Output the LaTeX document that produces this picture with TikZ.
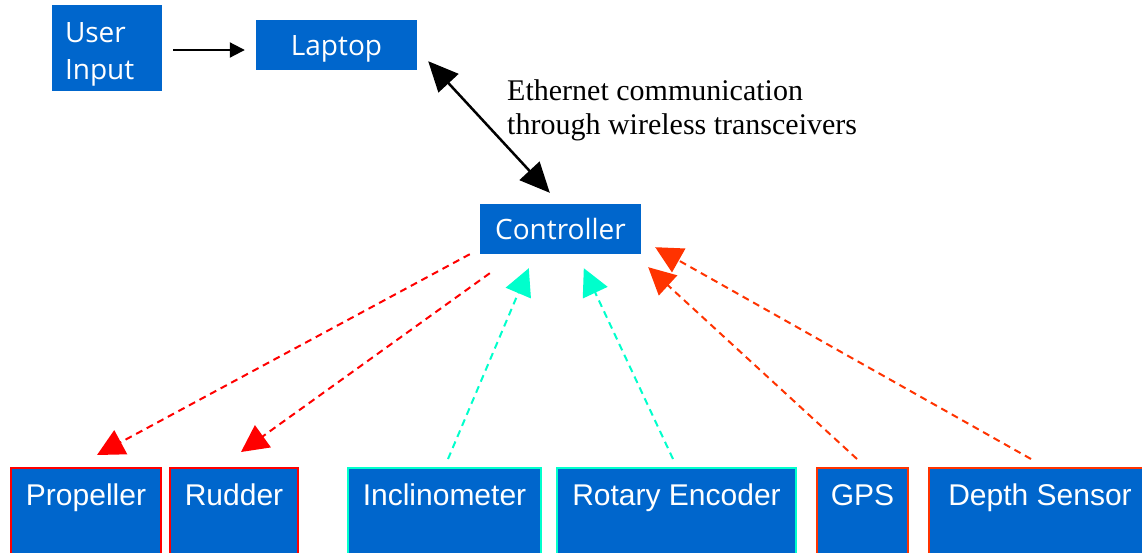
\documentclass[tikz,border=0pt]{standalone}
\usepackage{fontspec}
\setmainfont{Liberation Serif}
\newfontfamily\boxfont{Open Sans}
\newfontfamily\armfont{Liberation Sans}
\usetikzlibrary{arrows.meta}
\definecolor{boxblue}{RGB}{0,102,204}
\definecolor{actred}{RGB}{255,0,0}
\definecolor{senscyan}{RGB}{0,255,204}
\definecolor{sensorange}{RGB}{255,51,0}
\begin{document}
\begin{tikzpicture}[x=1pt,y=-1pt,
  topbox/.style={fill=boxblue, text=white, font=\boxfont\fontsize{28}{36.5}\selectfont, inner sep=0pt},
  onebox/.style={topbox, text height=20pt, text depth=0pt},
  botbox/.style={fill=boxblue, draw=#1, line width=2pt, text=white,
    font=\armfont\fontsize{30}{36}\selectfont, inner xsep=0pt, inner ysep=7pt,
    text height=30pt, text depth=90pt, anchor=north west},
  blackarrow/.style={draw=black, line width=2pt, -{Triangle[length=15pt,width=15pt]}},
  linkarrow/.style={draw=black, line width=2.5pt, {Triangle[length=30pt,width=27pt]}-{Triangle[length=30pt,width=27pt]}},
  sigarrow/.style={draw=#1, line width=2pt, dash pattern=on 7pt off 5pt, -{Triangle[length=27pt,width=27pt]}}
]
\useasboundingbox (0,0) rectangle (1142,552);
\clip (0,0) rectangle (1142,552);
\fill[white] (0,0) rectangle (1142,552);

% top boxes
\node[topbox, minimum width=110pt, minimum height=86pt] (ui) at (107,48) {\parbox[c][50pt][t]{84pt}{User\\Input}};
\node[onebox, minimum width=161pt, minimum height=50pt] (lap) at (336.5,45) {Laptop};
\node[onebox, minimum width=161pt, minimum height=50pt] (ctrl) at (560.5,229) {Controller};

% label
\node[anchor=north west, inner sep=0pt, align=left, font=\fontsize{30}{34}\selectfont] (eth) at (507,79.5) {Ethernet communication\\through wireless transceivers};

% bottom boxes
\node[botbox=actred, minimum width=150pt] (prop) at (10,467) {Propeller};
\node[botbox=actred, minimum width=128pt] (rud) at (169,467) {Rudder};
\node[botbox=senscyan, minimum width=193pt] (incl) at (347,467) {Inclinometer};
\node[botbox=senscyan, minimum width=239pt] (rot) at (556,467) {Rotary Encoder};
\node[botbox=sensorange, minimum width=91pt] (gps) at (816,467) {GPS};
\node[botbox=sensorange, minimum width=222pt] (dep) at (928,467) {Depth Sensor};

% connectors
\draw[blackarrow] ([shift={(11,2)}]ui.east) -- ([shift={(-11,5)}]lap.west);
\draw[linkarrow] ([shift={(11,-9)}]lap.south east) -- ([shift={(70,-11)}]ctrl.north west);

\draw[sigarrow=actred] ([shift={(-10,0)}]ctrl.south west) -- ([shift={(87,-12)}]prop.north west);
\draw[sigarrow=actred] ([shift={(10,19)}]ctrl.south west) -- ([shift={(72,-15)}]rud.north west);
\draw[sigarrow=senscyan] ([shift={(101,-8)}]incl.north west) -- ([shift={(49,14)}]ctrl.south west);
\draw[sigarrow=senscyan] ([shift={(117,-8)}]rot.north west) -- ([shift={(104,14)}]ctrl.south west);
\draw[sigarrow=sensorange] ([shift={(41,-8)}]gps.north west) -- ([shift={(7,13)}]ctrl.south east);
\draw[sigarrow=sensorange] ([shift={(103,-8)}]dep.north west) -- ([shift={(14,-7)}]ctrl.south east);
\end{tikzpicture}
\end{document}
